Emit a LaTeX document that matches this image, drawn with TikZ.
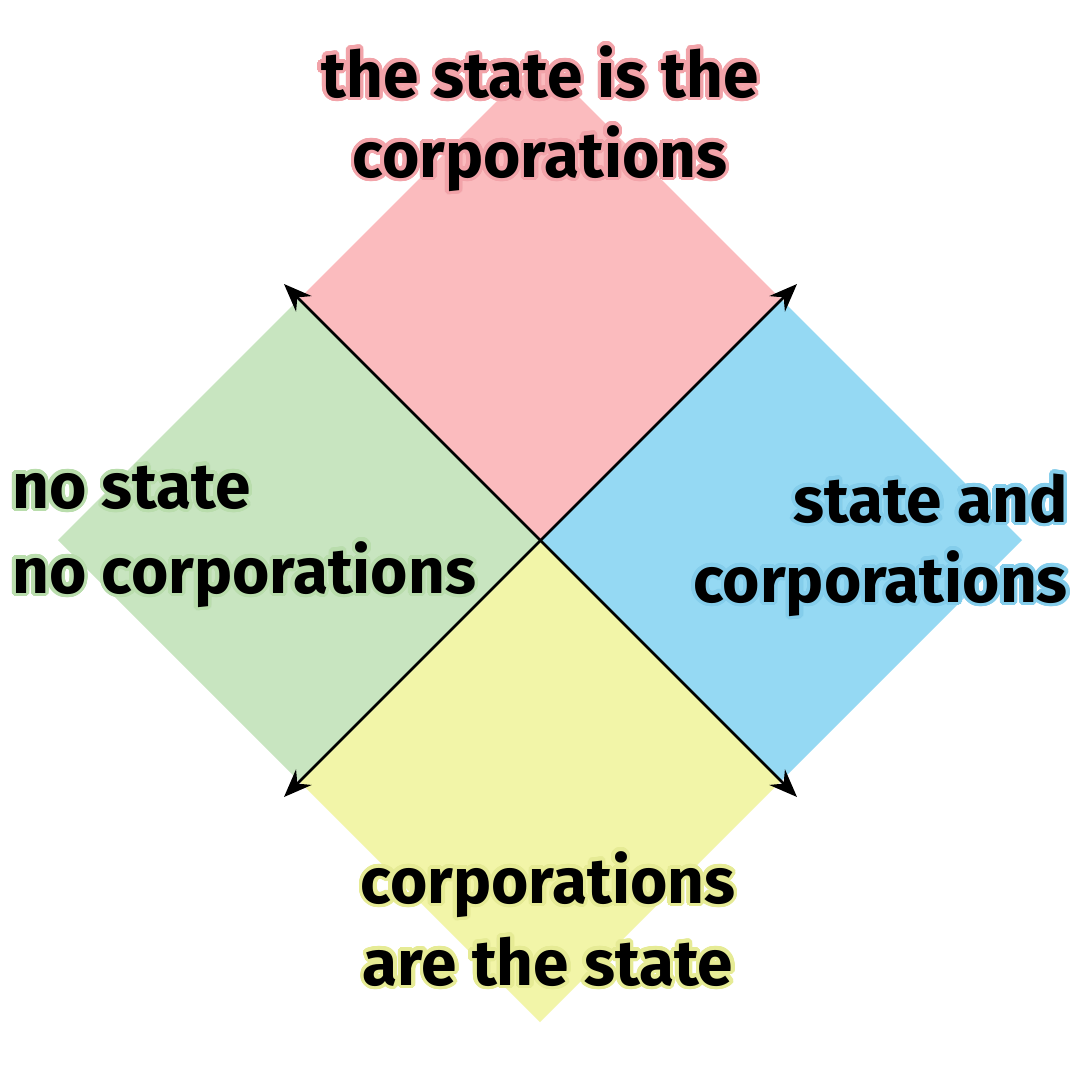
\documentclass[tikz,border=0pt]{standalone}
\usepackage{fontspec}
\setmainfont{Fira Sans}
\usepackage{contour}
\contourlength{3.5pt}
\contournumber{32}
\usetikzlibrary{arrows.meta}
\definecolor{pinkf}{HTML}{FBBBBE}
\definecolor{greenf}{HTML}{C8E5C0}
\definecolor{bluef}{HTML}{95D9F3}
\definecolor{yellowf}{HTML}{F2F5A8}
\definecolor{pinke}{HTML}{F2A3A9}
\definecolor{greene}{HTML}{B9DDAC}
\definecolor{bluee}{HTML}{84CDEB}
\definecolor{yellowe}{HTML}{E6EB95}
\tikzset{
  lbl/.style={inner sep=0pt, font=\fontsize{64}{80}\selectfont\bfseries, text=black},
  axis/.style={line width=2.5pt, {Stealth[length=28pt,width=22pt]}-{Stealth[length=28pt,width=22pt]}}
}
\begin{document}
\begin{tikzpicture}[x=1pt,y=-1pt]
\useasboundingbox (0,0) rectangle (1080,1080);
\fill[white] (0,0) rectangle (1080,1080);
% quadrants
\coordinate (c) at (540,540);
\fill[pinkf] (c) -- (299,299) -- (540,58) -- (781,299) -- cycle;
\fill[greenf] (c) -- (299,299) -- (58,540) -- (299,781) -- cycle;
\fill[bluef] (c) -- (781,299) -- (1022,540) -- (781,781) -- cycle;
\fill[yellowf] (c) -- (299,781) -- (540,1022) -- (781,781) -- cycle;
% axes
\coordinate (tl) at (284,284);
\coordinate (br) at (797,797);
\coordinate (tr) at (797,284);
\coordinate (bl) at (284,797);
\draw[axis] (tl) -- (br);
\draw[axis] (bl) -- (tr);
% labels
\node[lbl, anchor=base] (t1) at (540,97) {\contour{pinke}{the state is the}};
\node[lbl, anchor=base] (t2) at (540,177) {\contour{pinke}{corporations}};
\node[lbl, anchor=base west] (l1) at (12,508) {\contour{greene}{no state}};
\node[lbl, anchor=base west] (l2) at (12,593) {\contour{greene}{no corporations}};
\node[lbl, anchor=base east] (r1) at (1068,522) {\contour{bluee}{state and}};
\node[lbl, anchor=base east] (r2) at (1068,602) {\contour{bluee}{corporations}};
\node[lbl, anchor=base] (b1) at (548,903) {\contour{yellowe}{corporations}};
\node[lbl, anchor=base] (b2) at (548,985) {\contour{yellowe}{are the state}};
\end{tikzpicture}
\end{document}
